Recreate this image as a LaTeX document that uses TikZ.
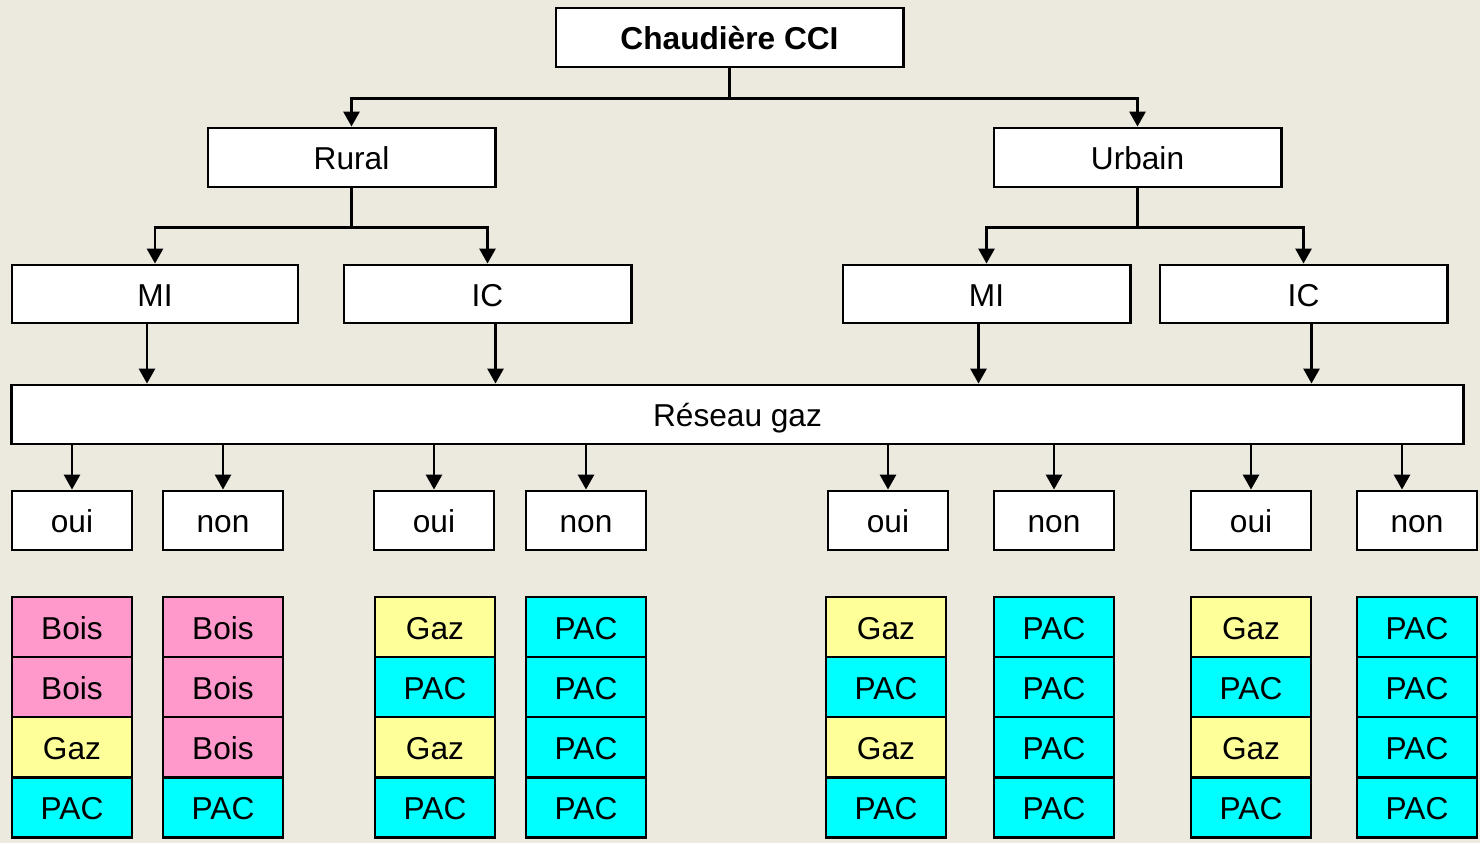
\documentclass[tikz,border=0pt]{standalone}
\usepackage{fontspec}
\setmainfont{Liberation Sans}
\usetikzlibrary{arrows.meta,positioning,calc}
\definecolor{bgbeige}{RGB}{236,233,223}
\definecolor{cbois}{RGB}{255,153,204}
\definecolor{cgaz}{RGB}{255,255,153}
\definecolor{cpac}{RGB}{0,255,255}
\tikzset{
  box/.style={draw, fill=white, line width=0.8pt, inner sep=0pt,
              text height=0.84em, text depth=0.14em,
              minimum height=0.59cm, font=\fontsize{9}{11}\selectfont},
  chip/.style={box, minimum width=1.2cm, minimum height=0.6cm},
  Bois/.style={fill=cbois},
  Gaz/.style={fill=cgaz},
  PAC/.style={fill=cpac},
  arr/.style={-{Triangle[length=1.5mm, width=1.6mm]}, line width=0.8pt},
  lnk/.style={line width=0.8pt},
}

\begin{document}
\begin{tikzpicture}[x=0.01cm, y=-0.01cm]
  \fill[bgbeige] (0,0) rectangle (1480,843);
  \useasboundingbox (0,0) rectangle (1480,843);
  % tree
  \node[box, minimum width=3.47cm, font=\fontsize{9}{11}\selectfont\bfseries] (cci) at (729.5,37.5) {Chaudière CCI};
  \node[box, minimum width=2.87cm] (rural) at (351.5,157.5) {Rural};
  \node[box, minimum width=2.87cm] (urbain) at (1137.5,157.5) {Urbain};
  \node[box, minimum width=2.86cm, minimum height=0.58cm] (miL) at (155,294) {MI};
  \node[box, minimum width=2.87cm, minimum height=0.58cm] (icL) at (487.5,294) {IC};
  \node[box, minimum width=2.87cm, minimum height=0.58cm] (miR) at (986.5,294) {MI};
  \node[box, minimum width=2.87cm, minimum height=0.58cm] (icR) at (1303.5,294) {IC};
  \node[box, minimum width=14.51cm] (reseau) at (737.5,414.5) {Réseau gaz};
  \draw[lnk] (cci.south) -- ++(0,30) coordinate (jtop);
  \draw[arr] (jtop) -| (rural.north);
  \draw[arr] (jtop) -| (urbain.north);
  \draw[lnk] (rural.south) -- ++(0,39) coordinate (jrural);
  \draw[arr] (jrural) -| (miL.north);
  \draw[arr] (jrural) -| (icL.north);
  \draw[lnk] (urbain.south) -- ++(0,39) coordinate (jurbain);
  \draw[arr] (jurbain) -| (miR.north);
  \draw[arr] (jurbain) -| (icR.north);
  \draw[arr] ([xshift=-0.08cm]miL.south) -- ([xshift=-0.08cm]miL.south |- reseau.north);
  \draw[arr] ([xshift=0.08cm]icL.south) -- ([xshift=0.08cm]icL.south |- reseau.north);
  \draw[arr] ([xshift=-0.08cm]miR.south) -- ([xshift=-0.08cm]miR.south |- reseau.north);
  \draw[arr] ([xshift=0.08cm]icR.south) -- ([xshift=0.08cm]icR.south |- reseau.north);
  % oui / non
  \foreach \cx/\t/\dx [count=\i] in {72/oui/0, 223/non/0, 434/oui/0, 586/non/0,
      888/oui/0, 1054/non/0, 1251/oui/0, 1417/non/-0.15} {
    \node[box, minimum width=1.2cm] (g\i) at (\cx,520.5) {\t};
    \draw[arr] ([xshift=\dx cm]g\i.north |- reseau.south) -- ([xshift=\dx cm]g\i.north);
  }
  % stacks
  \foreach \cx/\a/\b/\c/\d [count=\i] in {72/Bois/Bois/Gaz/PAC, 223/Bois/Bois/Bois/PAC,
      435/Gaz/PAC/Gaz/PAC, 586/PAC/PAC/PAC/PAC, 886/Gaz/PAC/Gaz/PAC,
      1054/PAC/PAC/PAC/PAC, 1251/Gaz/PAC/Gaz/PAC, 1417/PAC/PAC/PAC/PAC} {
    \foreach \t/\ry [count=\j] in {\a/627, \b/687, \c/747, \d/807.5}
      \node[chip, \t] (s\i-\j) at (\cx,\ry) {\t};
  }
\end{tikzpicture}
\end{document}
